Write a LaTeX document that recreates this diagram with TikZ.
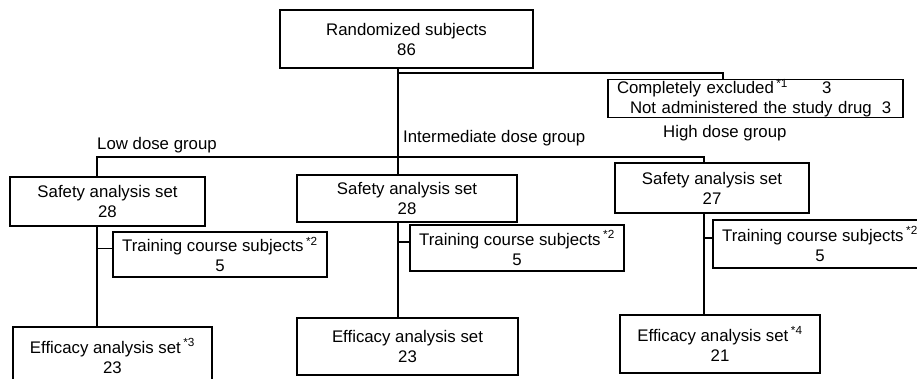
\documentclass[tikz,border=0pt]{standalone}
\usepackage{fontspec}
\setmainfont{Liberation Sans}
\usepackage{tikz}
\usetikzlibrary{positioning, calc}

\newcommand{\flowfont}{\fontsize{16.8pt}{20pt}\selectfont}
\newcommand{\notemark}[1]{\hspace{2.5pt}\textsuperscript{*#1}}

\begin{document}
\begin{tikzpicture}[x=1pt, y=-1pt,
        box/.style={draw, line width=1.1pt, inner sep=0pt, align=center, font=\flowfont},
        grouplbl/.style={anchor=west, inner sep=0pt, font=\flowfont},
        link/.style={line width=1.1pt}
    ]

    \useasboundingbox (0,0) rectangle (917,379);

    % Randomized subjects
    \node[box, minimum width=253pt, minimum height=58pt] (rand) at (406.5,39) {Randomized subjects\\86};

    % Excluded subjects
    \node[box, text width=277pt, inner xsep=9pt, align=left, minimum height=37pt] (excl) at (755.5,98.5)
        {Completely excluded\notemark{1}\hspace{34pt}3\\\hspace*{13pt}Not administered the study drug\hspace{10pt}3};

    % Stem positions
    \coordinate (lowx) at (97,0);
    \coordinate (midx) at (398,0);
    \coordinate (highx) at (704,0);
    \coordinate (exclx) at (723,0);
    \coordinate (exjoin) at (398,73);
    \coordinate (grpjoin) at (398,157);

    % Group labels
    \node[grouplbl] (lowlbl) at (97,145) {Low dose group};
    \node[grouplbl] (midlbl) at (403,138) {Intermediate dose group};
    \node[grouplbl] (highlbl) at (663,133) {High dose group};

    % Safety analysis sets
    \node[box, minimum width=195pt, minimum height=49pt] (safelow) at (107.5,201.5) {Safety analysis set\\28};
    \node[box, minimum width=220pt, minimum height=47pt] (safemid) at (407,198.5) {Safety analysis set\\28};
    \node[box, minimum width=194pt, minimum height=50pt] (safehigh) at (712,188) {Safety analysis set\\27};

    % Training course subjects
    \node[box, minimum width=214pt, minimum height=45pt] (trainlow) at (220,254.5) {Training course subjects\notemark{2}\\5};
    \node[box, minimum width=214pt, minimum height=46pt] (trainmid) at (517,248) {Training course subjects\notemark{2}\\5};
    \node[box, minimum width=214pt, minimum height=48pt] (trainhigh) at (820,244) {Training course subjects\notemark{2}\\5};

    % Efficacy analysis sets
    \node[box, minimum width=199pt, minimum height=58pt] (efflow) at (112.5,356) {Efficacy analysis set\notemark{3}\\23};
    \node[box, minimum width=221pt, minimum height=57pt] (effmid) at (407.5,346.5) {Efficacy analysis set\\23};
    \node[box, minimum width=200pt, minimum height=58pt] (effhigh) at (720,344) {Efficacy analysis set\notemark{4}\\21};

    % Connections
    \draw[link] (rand.south -| midx) -- (safemid.north -| midx);
    \draw[link] (exjoin) -| (excl.north -| exclx);
    \draw[link] (safelow.north -| lowx) |- (grpjoin) -| (safehigh.north -| highx);

    \draw[link] (safelow.south -| lowx) -- (efflow.north -| lowx);
    \draw[link] (safemid.south -| midx) -- (effmid.north -| midx);
    \draw[link] (safehigh.south -| highx) -- (effhigh.north -| highx);

    \draw[link] ([yshift=6pt]trainlow.west -| lowx) -- ([yshift=6pt]trainlow.west);
    \draw[link] ([yshift=6pt]trainmid.west -| midx) -- ([yshift=6pt]trainmid.west);
    \draw[link] ([yshift=6pt]trainhigh.west -| highx) -- ([yshift=6pt]trainhigh.west);

\end{tikzpicture}
\end{document}
